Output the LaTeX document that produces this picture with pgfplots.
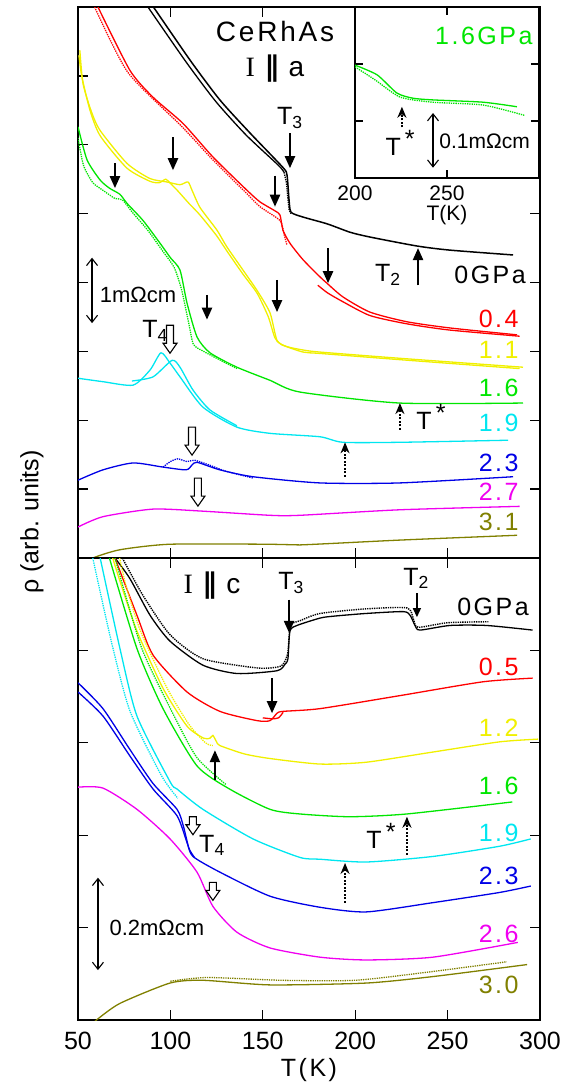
\documentclass[border=0pt]{standalone}
\usepackage{fontspec}
\setmainfont{Liberation Sans}
\newfontfamily\serif{Liberation Serif}
\newfontfamily\dejavu{DejaVu Sans}
\newfontfamily\ls[LetterSpace=10]{Liberation Sans}
\usepackage{pgfplots}
\pgfplotsset{compat=1.18}
\usetikzlibrary{arrows.meta}

\definecolor{cred}{RGB}{255,0,0}
\definecolor{cyel}{RGB}{240,240,0}
\definecolor{cgreen}{RGB}{0,230,0}
\definecolor{ccyan}{RGB}{0,230,240}
\definecolor{cblue}{RGB}{0,0,230}
\definecolor{cmag}{RGB}{240,0,240}
\definecolor{colive}{RGB}{128,128,0}

\newcommand\fs[1]{\fontsize{#1bp}{#1bp}\selectfont}

\tikzset{
 sarr/.style={line width=2.2bp, -{Triangle[length=12bp,width=10bp]}},
 tarr/.style={line width=1.4bp, -{Triangle[length=9bp,width=8bp]}},
 darr/.style={line width=2bp, dash pattern=on 2bp off 1.5bp, -{Stealth[length=11bp,width=9bp]}},
 barr/.style={line width=1.1bp, {Straight Barb[length=7bp,width=11bp]}-{Straight Barb[length=7bp,width=11bp]}},
 lab/.style={font=\ls\fs{25}, anchor=east},
}

\newcommand\hollow[2]{\draw[line width=1.1bp, fill=white] #1 ++(-3.5bp,0bp) -- ++(0bp,-#2) -- ++(-3.5bp,0bp) -- ++(7bp,-10bp) -- ++(7bp,10bp) -- ++(-3.5bp,0bp) -- ++(0bp,#2) -- cycle;}

\pgfplotsset{myax/.style={scale only axis, width=462bp, xmin=50, xmax=300,
  xtick={50,100,...,300}, tick align=inside, major tick length=10bp,
  every tick/.style={black, line width=1.3bp}, axis line style={line width=1.5bp},
  xtick pos=both, ytick pos=both, clip mode=individual,
  /pgf/number format/assume math mode=true, ticklabel style={font=\fs{25}},
  every axis plot/.append style={line width=1.3bp, smooth, tension=0.4, mark=none}}}

\begin{document}
\begin{tikzpicture}
\path[use as bounding box] (0,0) rectangle (575bp,-1087bp);

% ---------------- top panel (I || a)
\begin{axis}[myax, at={(78bp,-558bp)}, anchor=south west, height=551bp,
  ymin=0, ymax=8, ytick={1,...,7}, yticklabels={}, xticklabels={}]
% 0 GPa
\addplot[black, line width=1.5bp] coordinates {(87,8.15)(110.6,7.23)(126.8,6.65)(143.1,6.17)(160.9,5.67)(163.1,5.56)(164.2,5.2)(165.3,5.02)(171.8,4.95)(185,4.85)(197.2,4.73)(208,4.66)(233.4,4.53)(251.3,4.47)(285.4,4.40)};
\addplot[black] coordinates {(84,8.15)(108,7.22)(124.5,6.63)(141,6.14)(158.5,5.7)(161.5,5.6)};
\addplot[black, densely dotted, line width=1.4bp, sharp plot] coordinates {(161.5,5.6)(162.8,5.45)(163.5,5.25)(164.3,5.05)(165.3,5.0)};
% 0.4
\addplot[cred] coordinates {(60.8,8.0)(78.1,7.08)(90.6,6.69)(106.8,6.31)(123.1,5.82)(141.4,5.34)(148.5,5.17)(156.6,5.04)(159.3,4.98)(160.9,4.76)(164.7,4.57)(171.8,4.33)(181,4.08)(184.7,3.99)(193.4,3.79)(208,3.57)(228,3.43)(251.3,3.34)(287.6,3.24)};
\addplot[cred, densely dotted] coordinates {(59,8.0)(77,7.05)(106,6.27)(123,5.78)(141,5.3)(148.5,5.1)(159.3,4.9)(161.5,4.7)(163,4.55)};
\addplot[cred] coordinates {(179.8,3.96)(185,3.85)(193.4,3.72)(208,3.52)(228,3.40)(251,3.31)(289,3.22)};
% 1.1
\addplot[cyel] coordinates {(51,7.37)(52.7,6.89)(57,6.5)(61.9,6.21)(76.5,5.73)(88.9,5.51)(98.1,5.46)(105.2,5.42)(109.5,5.46)(111.7,5.34)(116,5.09)(125.2,4.76)(130.5,4.52)(139.3,4.18)(147,3.88)(153.9,3.56)(157.7,3.16)(163,3.07)(171.8,3.02)(181,2.99)(224,2.90)(290.8,2.77)};
\addplot[cyel] coordinates {(50.5,7.3)(52,7.0)(56.5,6.5)(62,6.13)(76.5,5.66)(88.9,5.47)(94,5.45)(97.5,5.50)(100,5.44)(104,5.33)(110,5.15)(116,4.98)(125,4.68)(130.5,4.46)(139.3,4.12)(147,3.84)(153,3.5)(156.5,3.2)(160,3.1)(171.8,2.99)(181,2.97)(224,2.88)(289,2.75)};
% 1.6
\addplot[cgreen] coordinates {(50,6.26)(54.9,5.78)(61.9,5.49)(67,5.37)(72.7,5.28)(76.5,5.15)(85.2,4.90)(94.4,4.57)(100,4.36)(105.2,4.18)(109,3.70)(114.4,3.21)(121.4,2.98)(136,2.77)(153.9,2.58)(170,2.41)(224,2.25)(290.8,2.25)};
\addplot[cgreen, densely dotted] coordinates {(50,6.1)(53,5.7)(58,5.45)(64,5.33)(70,5.22)(74,5.2)(80,5.0)(88,4.75)(96,4.45)(102,4.22)(106,3.9)(110,3.4)(112.5,3.1)(118,3.0)(125,2.9)(136,2.75)};
% 1.9
\addplot[ccyan] coordinates {(50,2.61)(63.5,2.56)(79.8,2.51)(89,2.73)(94.9,2.98)(99.8,2.83)(105.2,2.63)(117.6,2.19)(136,1.90)(153.9,1.81)(181,1.76)(193.4,1.68)(224,1.68)(282.7,1.71)};
\addplot[ccyan] coordinates {(79.2,2.57)(90.6,2.63)(100.9,2.87)(105.2,2.77)(112.2,2.44)(121.4,2.15)(136,1.92)};
% 2.3
\addplot[cblue] coordinates {(50,1.13)(63.5,1.28)(79.8,1.38)(96,1.32)(108.5,1.28)(111.7,1.35)(114.4,1.39)(126.8,1.28)(144.7,1.18)(181,1.09)(224,1.09)(285.4,1.18)};
\addplot[cblue, densely dotted] coordinates {(96,1.32)(100,1.40)(104,1.44)(109,1.40)(113,1.42)(120,1.36)(130,1.26)(145,1.16)};
% 2.7
\addplot[cmag] coordinates {(50,0.45)(63.5,0.60)(90.6,0.71)(117.6,0.68)(153.9,0.62)(170,0.62)(224,0.70)(289,0.75)};
% 3.1
\addplot[colive] coordinates {(55,-0.07)(58,0)(72.7,0.12)(99.8,0.20)(153.9,0.20)(170,0.19)(224,0.26)(287.6,0.33)};

\node[font=\ls\fs{28}] at (156.6,7.64) {CeRhAs};
\node[font=\fs{28}] at (156.6,7.11) {{\serif I}\hspace{0.35em}{\dejavu\bfseries ∥}\hspace{0.35em}a};
\node[font=\fs{25}] at (164.7,6.39) {T\textsubscript{3}};
\draw[sarr] (164.7,6.17) -- (164.7,5.66);
\draw[sarr] (101.4,6.11) -- (101.4,5.63);
\draw[sarr] (70,5.73) -- (70,5.37);
\draw[sarr] (156.6,5.55) -- (156.6,5.10);
\draw[sarr] (185.3,4.50) -- (185.3,3.99);
\draw[sarr] (119.8,3.82) -- (119.8,3.46);
\draw[sarr] (157.7,4.04) -- (157.7,3.57);
\draw[sarr] (234,3.96) -- (234,4.50);
\node[font=\fs{25}] at (217.7,4.11) {T\textsubscript{2}};
\node[font=\ls\fs{25}] at (273,4.11) {0GPa};
\node[font=\fs{25}] at (91.7,3.30) {T\textsubscript{4}};
\hollow{(99.8,3.38)}{18bp}
\hollow{(111.7,1.90)}{18bp}
\hollow{(114.9,1.16)}{18bp}
\draw[darr] (224.2,1.86) -- (224.2,2.25);
\draw[darr] (194.5,1.18) -- (194.5,1.68);
\node[font=\fs{25}] at (241,2.05) {T\,\raisebox{0.3em}{*}};
\draw[barr] (57.6,4.36) -- (57.6,3.41);
\node[font=\fs{22}] at (82.5,3.82) {1mΩcm};
\node[lab, cred] at (290.3,3.47) {0.4};
\node[lab, cyel] at (290.3,3.02) {1.1};
\node[lab, cgreen] at (290.3,2.47) {1.6};
\node[lab, ccyan] at (290.3,1.96) {1.9};
\node[lab, cblue] at (290.3,1.38) {2.3};
\node[lab, cmag] at (290.3,0.96) {2.7};
\node[lab, colive] at (290.3,0.52) {3.1};
\end{axis}

% ---------------- inset
\begin{axis}[myax, at={(355bp,-178bp)}, anchor=south west, width=184bp, height=171bp,
  xmin=200, xmax=300, ymin=0, ymax=3, xtick={200,250,300}, xticklabels={200,250,{}},
  ytick={1,2}, yticklabels={}, major tick length=8bp, axis background/.style={fill=white},
  xtick pos=both, xticklabel style={anchor=center, yshift=-15bp, font=\fs{21}},
  xlabel={T(K)}, xlabel style={at={(axis description cs:0.5,0)}, anchor=center, yshift=-37bp, font=\fs{21}}]
\addplot[cgreen] coordinates {(200,1.98)(212,1.81)(222.8,1.49)(231.5,1.40)(242.4,1.37)(269.6,1.33)(288,1.25)};
\addplot[cgreen, densely dotted] coordinates {(200,1.95)(211,1.72)(224.5,1.42)(242,1.33)(269.6,1.28)(292,1.10)};
\node[font=\ls\fs{25}, cgreen] at (270,2.49) {1.6GPa};
\draw[darr] (225.5,0.89) -- (225.5,1.25);
\node[font=\fs{25}] at (224.5,0.62) {T\,\raisebox{0.3em}{*}};
\draw[barr] (242.4,1.14) -- (242.4,0.18);
\node[font=\fs{21}, anchor=west] at (244,0.65) {0.1mΩcm};
\end{axis}

% ---------------- bottom panel (I || c)
\begin{axis}[myax, at={(78bp,-1020bp)}, anchor=south west, height=462bp,
  ymin=0, ymax=5, ytick={1,...,4}, yticklabels={},
  xticklabel style={anchor=center, yshift=-21bp},
  xlabel={T(K)}, xlabel style={at={(axis description cs:0.5,0)}, anchor=center, yshift=-50bp, font=\ls\fs{25}}]
% 0 GPa
\addplot[black] coordinates {(70,5.0)(78,4.78)(89,4.38)(99.8,4.10)(117.6,3.84)(136,3.75)(157.7,3.78)(162,3.85)(163.6,3.91)(164.7,4.21)(168.5,4.27)(181,4.35)(188,4.37)(206,4.40)(226,4.42)(229.7,4.38)(232.4,4.27)(235,4.22)(251.3,4.27)(271,4.27)(296,4.22)};
\addplot[black, densely dotted, line width=1.4bp] coordinates {(74,5.0)(85,4.6)(99.8,4.17)(117.6,3.91)(147,3.81)(158,3.82)(161,3.85)(163.5,3.97)(165,4.27)(170,4.32)(181,4.40)(206,4.45)(228,4.46)(231.5,4.34)(234,4.25)(250,4.30)(272,4.31)};
% 0.5
\addplot[cred] coordinates {(70,5.0)(81.9,4.38)(90.6,3.95)(109,3.55)(126.8,3.34)(146.9,3.24)(153.9,3.24)(157.7,3.32)(160.9,3.34)(181,3.37)(224,3.51)(269,3.66)(296,3.70)};
\addplot[cred] coordinates {(150,3.27)(155,3.26)(158.5,3.27)(161,3.33)};
% 1.2
\addplot[cyel] coordinates {(68,5.05)(72.7,4.75)(81.9,4.21)(96,3.59)(109,3.18)(118,3.05)(121.4,3.05)(123,3.08)(125,3.01)(126.8,2.97)(140,2.88)(153.9,2.83)(181,2.77)(206,2.79)(242,2.90)(278,3.01)(299,3.04)};
\addplot[cyel, densely dotted] coordinates {(72,5.05)(76,4.7)(84,4.2)(98,3.6)(110,3.2)(119,3.0)(123,2.97)};
% 1.6
\addplot[cgreen] coordinates {(67,5.0)(81.9,4.02)(96,3.37)(114.4,2.75)(132,2.50)(153.9,2.28)(170,2.23)(197,2.20)(228,2.23)(285,2.36)};
\addplot[cgreen, densely dotted] coordinates {(70,5.0)(84,4.05)(98,3.45)(114,2.85)(130,2.55)};
% 1.9
\addplot[ccyan] coordinates {(62,5.0)(72.7,4.02)(81.9,3.29)(99.8,2.58)(103.6,2.50)(117.6,2.28)(144.7,1.96)(170,1.76)(181,1.74)(206,1.71)(242,1.77)(278,1.88)(295,1.96)};
\addplot[ccyan, densely dotted] coordinates {(58,5.0)(68,4.1)(78,3.35)(95,2.65)(104,2.4)};
% 2.3
\addplot[cblue] coordinates {(50,3.55)(63.5,3.29)(78,2.86)(90.6,2.50)(103.6,2.21)(109,1.92)(112.2,1.77)(126.8,1.60)(153.9,1.34)(181,1.22)(206,1.17)(242,1.27)(278,1.38)(295,1.45)};
\addplot[cblue] coordinates {(50,3.65)(63.5,3.37)(78,2.93)(90.6,2.56)(103.6,2.28)(107,2.10)(110,1.86)(113,1.76)};
% 2.6
\addplot[cmag] coordinates {(50,2.52)(63.5,2.51)(81.9,2.28)(99.8,1.96)(114.4,1.60)(123,1.23)(136,0.95)(153.9,0.78)(181,0.68)(206,0.65)(242,0.68)(288,0.84)};
% 3.0
\addplot[colive] coordinates {(58,-0.05)(60,0)(72.7,0.18)(99.8,0.40)(117.6,0.43)(153.9,0.38)(206,0.40)(242,0.47)(293,0.60)};
\addplot[colive, densely dotted] coordinates {(100,0.42)(120,0.46)(160,0.43)(200,0.43)(240,0.52)(282,0.63)};

\node[font=\fs{28}] at (122.5,4.70) {{\serif I}\hspace{0.35em}{\dejavu\bfseries ∥}\hspace{0.35em}c};
\node[font=\fs{25}] at (165.3,4.73) {T\textsubscript{3}};
\draw[sarr] (164.2,4.55) -- (164.2,4.19);
\draw[sarr] (155,3.70) -- (155,3.32);
\draw[sarr] (124.1,2.60) -- (124.1,2.92);
\node[font=\fs{25}] at (232.9,4.78) {T\textsubscript{2}};
\draw[tarr] (233.4,4.62) -- (233.4,4.36);
\node[font=\ls\fs{25}] at (274.6,4.47) {0GPa};
\hollow{(112.2,2.20)}{8bp}
\node[font=\fs{25}] at (122.5,1.89) {T\textsubscript{4}};
\hollow{(123,1.49)}{8bp}
\draw[barr] (60.8,1.54) -- (60.8,0.54);
\node[font=\fs{22}] at (92.7,1.0) {0.2mΩcm};
\draw[darr] (228,1.79) -- (228,2.20);
\node[font=\fs{25}] at (214,1.99) {T\,\raisebox{0.3em}{*}};
\draw[darr] (194.5,1.27) -- (194.5,1.70);
\node[lab, cred] at (290.3,3.82) {0.5};
\node[lab, cyel] at (290.3,3.16) {1.2};
\node[lab, cgreen] at (290.3,2.53) {1.6};
\node[lab, ccyan] at (290.3,2.03) {1.9};
\node[lab, cblue] at (290.3,1.56) {2.3};
\node[lab, cmag] at (290.3,0.93) {2.6};
\node[lab, colive] at (290.3,0.38) {3.0};
\end{axis}

\node[rotate=90, font=\fs{25}] at (32bp,-522bp) {ρ (arb. units)};
\end{tikzpicture}
\end{document}
